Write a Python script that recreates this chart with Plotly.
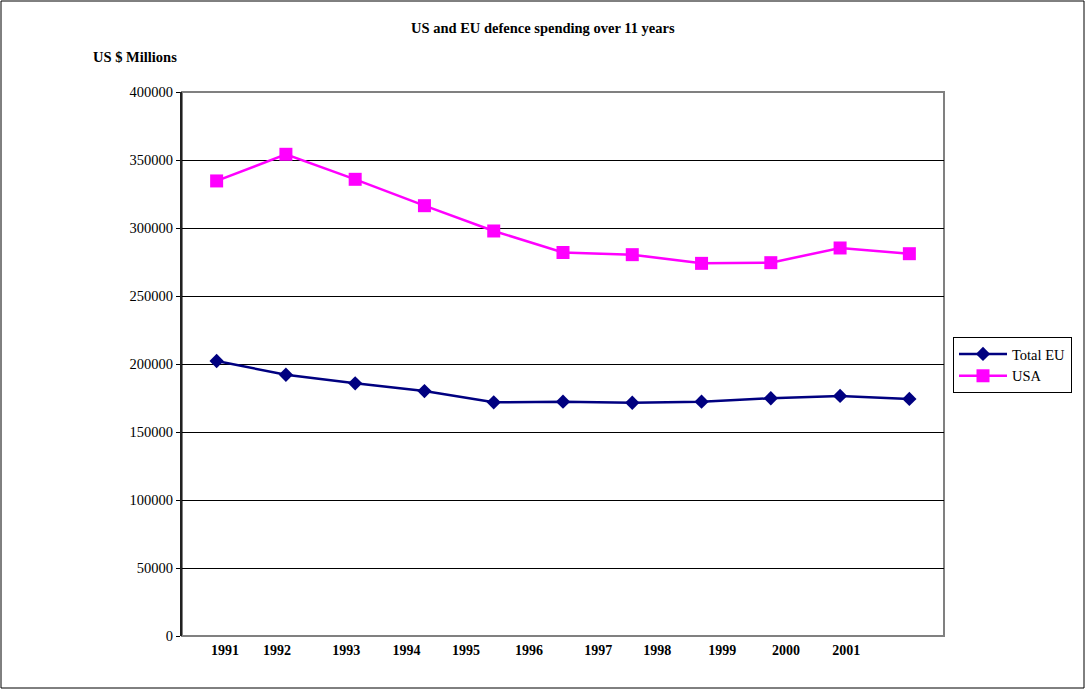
import plotly.graph_objects as go

# ---- data ----
YEARS = [1991, 1992, 1993, 1994, 1995, 1996, 1997, 1998, 1999, 2000, 2001]
TOTAL_EU = [202200, 192100, 185800, 180100, 171800, 172300, 171500, 172300, 174800, 176500, 174300]
USA = [334600, 354200, 335800, 316400, 297800, 282000, 280400, 274000, 274500, 285300, 281100]
YEAR_LABELS = [str(y) for y in YEARS]
Y_TICKS = [0, 50000, 100000, 150000, 200000, 250000, 300000, 350000, 400000]

# ---- layout helpers (label placement as in the original chart) ----
LABEL_SHIFT = [0.12, -0.13, -0.13, -0.26, -0.40, -0.49, -0.49, -0.64, -0.70, -0.78, -0.91]
label_pos = [y + s for y, s in zip(YEARS, LABEL_SHIFT)]

FONT = "Liberation Serif, Times New Roman, serif"

fig = go.Figure()
fig.add_trace(go.Scatter(
    x=YEARS, y=TOTAL_EU, name="Total EU", mode="lines+markers",
    line=dict(color="#000080", width=2.5),
    marker=dict(symbol="diamond", size=11, color="#000080"),
))
fig.add_trace(go.Scatter(
    x=YEARS, y=USA, name="USA", mode="lines+markers",
    line=dict(color="#FF00FF", width=2.5),
    marker=dict(symbol="square", size=13, color="#FF00FF"),
))

W, H = 1085, 689
L, R, T, B = 182, 944, 92, 636
pw, ph = R - L, B - T

def px_x(x):
    return (x - L) / pw

def px_y(y):
    return (B - y) / ph

fig.update_layout(
    width=W, height=H,
    margin=dict(l=L, r=W - R, t=T, b=H - B),
    paper_bgcolor="white", plot_bgcolor="white",
    font=dict(family=FONT, size=14, color="black"),
    showlegend=True,
    legend=dict(
        x=px_x(953), y=px_y(337), xanchor="left", yanchor="top",
        bordercolor="black", borderwidth=1, bgcolor="white",
        font=dict(family=FONT, size=14.5, color="black"),
        itemwidth=48,
        tracegroupgap=0,
    ),
    xaxis=dict(
        range=[1990.5, 2001.5], tickmode="array", tickvals=label_pos,
        ticktext=YEAR_LABELS, showgrid=False, zeroline=False, showline=False,
        ticks="", ticklabelstandoff=4,
        tickfont=dict(family=FONT, size=14, color="black", weight="bold"),
        fixedrange=True,
    ),
    yaxis=dict(
        range=[0, 400000], tickmode="array", tickvals=Y_TICKS,
        ticktext=[str(v) for v in Y_TICKS],
        showgrid=True, gridcolor="black", gridwidth=1, zeroline=False,
        showline=True, linecolor="#202020", linewidth=2,
        ticks="outside", ticklen=4, tickcolor="black", tickwidth=1,
        tickfont=dict(family=FONT, size=14.5, color="black"),
        fixedrange=True,
    ),
    annotations=[
        dict(text="<b>US and EU defence spending over 11 years</b>", xref="paper", yref="paper",
             x=px_x(543), y=px_y(28), xanchor="center", yanchor="middle", showarrow=False,
             font=dict(family=FONT, size=14.5, color="black")),
        dict(text="<b>US $ Millions</b>", xref="paper", yref="paper",
             x=px_x(91), y=px_y(57), xanchor="left", yanchor="middle", showarrow=False,
             font=dict(family=FONT, size=14.5, color="black")),
    ],
    shapes=[
        dict(type="rect", xref="paper", yref="paper", x0=0, x1=1, y0=0, y1=1,
             line=dict(color="#808080", width=2), layer="below"),
        dict(type="rect", xref="paper", yref="paper",
             x0=px_x(1), x1=px_x(1084), y0=px_y(688), y1=px_y(1),
             line=dict(color="black", width=1)),
    ],
)

fig.write_html("out.html", config={"displayModeBar": False})
